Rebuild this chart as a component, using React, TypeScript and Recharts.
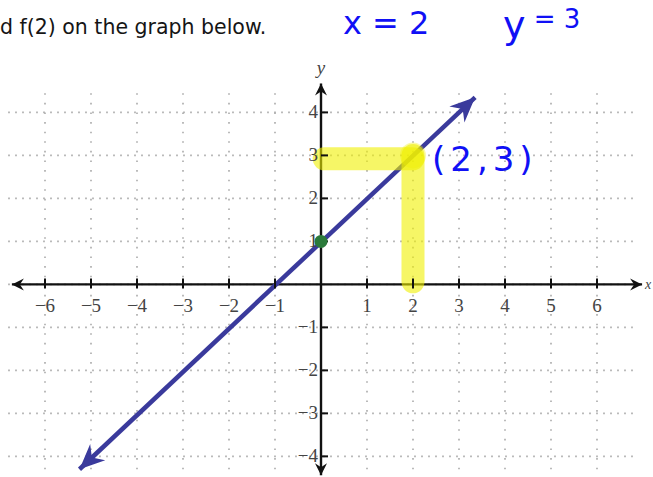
import React from "react";
import {
  ComposedChart,
  Line,
  XAxis,
  YAxis,
  ReferenceLine,
  ReferenceDot,
} from "recharts";

// tick labels on the two axes (no 0 label)
const xTicks = [-6, -5, -4, -3, -2, -1, 1, 2, 3, 4, 5, 6];
const yTicks = [-4, -3, -2, -1, 1, 2, 3, 4];
// dotted grid
const gridXs = [-6, -5, -4, -3, -2, -1, 0, 1, 2, 3, 4, 5, 6];
const gridYs = [-4, -3, -2, -1, 0, 1, 2, 3, 4];
// y = x + 1, arrow tips
const lineData = [
  { x: -5.25, y: -4.3 },
  { x: 3.35, y: 4.35 },
];
const intercept = { x: 0, y: 1 };
const answer = { x: 2, y: 3 };

const INK = "#111";
const TICK_TEXT = "#444";
const LINE_BLUE = "#3a3a9c";
const PEN_BLUE = "#1010f5";
const HILITE = "#f0f000";

const fmt = (v: number) => (v < 0 ? `\u2212${Math.abs(v)}` : `${v}`);

// barbed arrow head pointing along `ang`, tip at (x, y)
function arrowHead(x: number, y: number, ang: number, len: number, half: number, notch: number, fill: string) {
  const c = Math.cos(ang);
  const s = Math.sin(ang);
  const pt = (u: number, v: number) => `${x + u * c - v * s},${y + u * s + v * c}`;
  return <polygon points={[pt(0, 0), pt(-len, -half), pt(-notch, 0), pt(-len, half)].join(" ")} fill={fill} />;
}

const renderAxis = (label: string) => (props: any) => {
  const { x1, y1, x2, y2 } = props;
  const ang = Math.atan2(y2 - y1, x2 - x1);
  const horiz = Math.abs(y2 - y1) < 1;
  return (
    <g>
      <line x1={x1} y1={y1} x2={x2} y2={y2} stroke={INK} strokeWidth={2.4} />
      {arrowHead(x1, y1, ang + Math.PI, 12, 6, 8, INK)}
      {arrowHead(x2, y2, ang, 12, 6, 8, INK)}
      {horiz ? (
        <text x={Math.max(x1, x2) + 3} y={y2 + 5} fontFamily="Liberation Serif" fontStyle="italic" fontSize={14} fill={TICK_TEXT}>
          {label}
        </text>
      ) : (
        <text x={x1} y={Math.min(y1, y2) - 10} textAnchor="middle" fontFamily="Liberation Serif" fontStyle="italic" fontSize={19} fill={TICK_TEXT}>
          {label}
        </text>
      )}
    </g>
  );
};

const renderXTick = (v: number) => (props: any) => {
  const { cx, cy } = props;
  return (
    <g>
      <line x1={cx} y1={cy - 6} x2={cx} y2={cy + 4} stroke={INK} strokeWidth={2} />
      <text x={cx} y={cy + 28} textAnchor="middle" fontFamily="Liberation Serif" fontSize={19} fill={TICK_TEXT}>
        {fmt(v)}
      </text>
    </g>
  );
};

const renderYTick = (v: number) => (props: any) => {
  const { cx, cy } = props;
  return (
    <g>
      <line x1={cx} y1={cy} x2={cx + 7} y2={cy} stroke={INK} strokeWidth={2} />
      <text x={cx - 3} y={cy + 6} textAnchor="end" fontFamily="Liberation Serif" fontSize={19} fill={TICK_TEXT}>
        {fmt(v)}
      </text>
    </g>
  );
};

const renderArrowDot = (props: any) => {
  const { cx, cy, index, points } = props;
  if (!points || points.length < 2) return <g key={`a-${index}`} />;
  const other = index === 0 ? points[1] : points[index - 1];
  const ang = Math.atan2(cy - other.y, cx - other.x);
  return <g key={`a-${index}`}>{arrowHead(cx, cy, ang, 25, 11, 17, LINE_BLUE)}</g>;
};

const highlightStroke = (props: any) => {
  const { x1, y1, x2, y2 } = props;
  return (
    <line x1={x1} y1={y1} x2={x2} y2={y2} stroke={HILITE} strokeOpacity={0.6} strokeWidth={23} strokeLinecap="round" />
  );
};

const renderAnswer = (props: any) => {
  const { cx, cy } = props;
  return (
    <g>
      <circle cx={cx} cy={cy} r={13} fill={HILITE} fillOpacity={0.35} />
      <text x={cx + 19} y={cy + 16} fontFamily="DejaVu Sans" fontSize={34} letterSpacing={5} fill={PEN_BLUE}>
        {`(${answer.x},${answer.y})`}
      </text>
    </g>
  );
};

export default function App() {
  return (
    <div style={{ position: "absolute", left: 0, top: 0, width: 653, height: 477, background: "#fff", overflow: "hidden" }}>
      <div style={{ position: "absolute", left: 0, top: 15, fontFamily: "DejaVu Sans", fontSize: 20.5, color: "#151515" }}>
        d f(2) on the graph below.
      </div>
      <div style={{ position: "absolute", left: 343, top: 4, fontFamily: "DejaVu Sans", fontSize: 32, color: PEN_BLUE }}>
        x = 2
      </div>
      <div style={{ position: "absolute", left: 503, top: 2, fontFamily: "DejaVu Sans", fontSize: 38, color: PEN_BLUE, lineHeight: "46px" }}>
        y<span style={{ fontSize: 26, position: "relative", top: -10 }}> = 3</span>
      </div>
      <div style={{ position: "absolute", left: 0, top: 0 }}>
        <ComposedChart width={653} height={477} margin={{ top: 82.3, right: 7.7, bottom: 0, left: 3.6 }}>
          <XAxis type="number" dataKey="x" domain={[-6.9, 7.05]} allowDataOverflow hide />
          <YAxis type="number" dataKey="y" domain={[-4.48, 4.7]} allowDataOverflow hide />

          {/* dotted grid */}
          {gridYs.map((k) => (
            <ReferenceLine
              key={`gy${k}`}
              segment={[{ x: -6.8, y: k }, { x: 6.78, y: k }]}
              stroke="#aaa"
              strokeWidth={1.6}
              strokeDasharray="1.6 5.4"
              ifOverflow="visible"
            />
          ))}
          {gridXs.map((k) => (
            <ReferenceLine
              key={`gx${k}`}
              segment={[{ x: k, y: -4.3 }, { x: k, y: 4.45 }]}
              stroke="#aaa"
              strokeWidth={1.6}
              strokeDasharray="1.6 8"
              ifOverflow="visible"
            />
          ))}

          {/* axes through the origin */}
          <ReferenceLine segment={[{ x: -6.72, y: 0 }, { x: 6.98, y: 0 }]} ifOverflow="visible" shape={renderAxis("x")} />
          <ReferenceLine segment={[{ x: 0, y: -4.44 }, { x: 0, y: 4.67 }]} ifOverflow="visible" shape={renderAxis("y")} />
          {xTicks.map((v) => (
            <ReferenceDot key={`xt${v}`} x={v} y={0} ifOverflow="visible" shape={renderXTick(v)} />
          ))}
          {yTicks.map((v) => (
            <ReferenceDot key={`yt${v}`} x={0} y={v} ifOverflow="visible" shape={renderYTick(v)} />
          ))}

          <Line
            data={lineData}
            type="linear"
            dataKey="y"
            stroke={LINE_BLUE}
            strokeWidth={4.5}
            dot={renderArrowDot}
            activeDot={false}
            isAnimationActive={false}
          />

          {/* highlighter marks */}
          <ReferenceLine segment={[{ x: 0.07, y: 2.92 }, { x: answer.x, y: 2.92 }]} ifOverflow="visible" shape={highlightStroke} />
          <ReferenceLine segment={[{ x: answer.x, y: answer.y }, { x: answer.x, y: 0.06 }]} ifOverflow="visible" shape={highlightStroke} />
          <ReferenceDot x={answer.x} y={answer.y} ifOverflow="visible" shape={renderAnswer} />

          <ReferenceDot x={intercept.x} y={intercept.y} r={6.5} fill="#2b7a3b" stroke="none" ifOverflow="visible" />
        </ComposedChart>
      </div>
    </div>
  );
}
